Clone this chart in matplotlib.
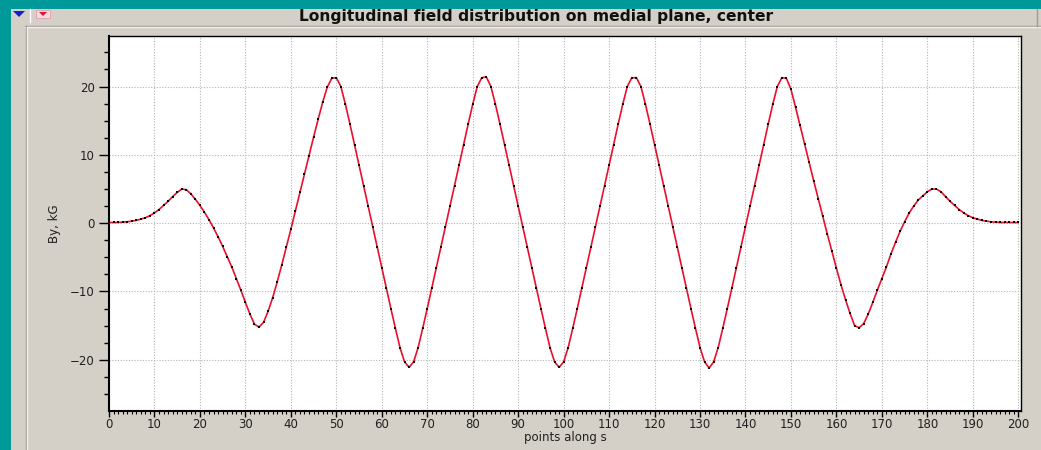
import matplotlib
matplotlib.use("Agg")
import matplotlib.pyplot as plt
from matplotlib.patches import Rectangle, Polygon
from matplotlib.lines import Line2D
from matplotlib.ticker import MultipleLocator

# ---------------- data ----------------
title = "Longitudinal field distribution on medial plane, center"
x_label = "points along s"
y_label = "By, kG"

points = list(range(0, 201))
field_kG = [
    0.1, 0.1, 0.1, 0.15, 0.2, 0.3, 0.4, 0.6, 0.8, 1.1,          # 0-9
    1.5, 2.0, 2.6, 3.2, 3.9, 4.5, 5.0, 4.9, 4.3, 3.5,           # 10-19
    2.6, 1.6, 0.5, -0.7, -2.0, -3.4, -4.9, -6.4, -8.1, -9.8,    # 20-29
    -11.6, -13.3, -14.8, -15.2, -14.5, -12.9, -10.9, -8.6, -6.1, -3.5,  # 30-39
    -0.9, 1.8, 4.5, 7.2, 9.9, 12.6, 15.2, 17.7, 19.9, 21.2,     # 40-49
    21.3, 20.0, 17.4, 14.5, 11.5, 8.5, 5.5, 2.5, -0.5, -3.5,    # 50-59
    -6.5, -9.5, -12.5, -15.4, -18.2, -20.3, -21.1, -20.3, -18.2, -15.4,  # 60-69
    -12.5, -9.5, -6.5, -3.5, -0.5, 2.5, 5.5, 8.5, 11.5, 14.5,   # 70-79
    17.4, 20.0, 21.3, 21.4, 20.0, 17.4, 14.5, 11.5, 8.5, 5.5,   # 80-89
    2.5, -0.5, -3.5, -6.5, -9.5, -12.5, -15.4, -18.2, -20.3, -21.1,  # 90-99
    -20.3, -18.2, -15.4, -12.5, -9.5, -6.5, -3.5, -0.5, 2.5, 5.5,    # 100-109
    8.5, 11.5, 14.5, 17.4, 20.0, 21.3, 21.3, 20.0, 17.4, 14.5,  # 110-119
    11.5, 8.5, 5.5, 2.5, -0.5, -3.5, -6.5, -9.5, -12.5, -15.4,  # 120-129
    -18.2, -20.3, -21.2, -20.3, -18.2, -15.4, -12.5, -9.5, -6.5, -3.5,  # 130-139
    -0.5, 2.5, 5.5, 8.5, 11.5, 14.5, 17.4, 20.0, 21.3, 21.2,    # 140-149
    19.6, 17.0, 14.3, 11.6, 8.9, 6.2, 3.6, 1.0, -1.6, -4.1,     # 150-159
    -6.6, -9.0, -11.2, -13.2, -15.0, -15.3, -14.7, -13.3, -11.6, -9.8,  # 160-169
    -8.1, -6.4, -4.5, -2.8, -1.2, 0.2, 1.5, 2.5, 3.4, 4.0,      # 170-179
    4.6, 5.0, 5.0, 4.6, 3.9, 3.2, 2.6, 2.0, 1.5, 1.1,           # 180-189
    0.8, 0.6, 0.4, 0.3, 0.2, 0.15, 0.1, 0.1, 0.1, 0.1,          # 190-199
    0.1,                                                        # 200
]
x_major_ticks = list(range(0, 201, 10))
y_major_ticks = [-20, -10, 0, 10, 20]

# ---------------- styling ----------------
W, H = 1041, 450
TEAL = "#009999"
GREY = "#d4d0c8"

fig = plt.figure(figsize=(W / 100, H / 100), dpi=100, facecolor=TEAL)


def fx(px):
    return px / W


def fy(py):
    return 1 - py / H


def rect(x0, y0, x1, y1, **kw):
    fig.patches.append(Rectangle((fx(x0), fy(y1)), fx(x1) - fx(x0), fy(y0) - fy(y1),
                                 transform=fig.transFigure, **kw))


def line(xs, ys, **kw):
    fig.lines.append(Line2D([fx(v) for v in xs], [fy(v) for v in ys],
                            transform=fig.transFigure, **kw))


# window body
rect(11, 9, W, H, facecolor=GREY, edgecolor="none", zorder=-3)
# title bar separators
line([25, W], [26, 26], color="#a09c94", lw=1, zorder=-2)
line([25, W], [27, 27], color="#f4f2ee", lw=1, zorder=-2)
line([25.5, 25.5], [26, H], color="#a09c94", lw=1, zorder=-2)
line([26.5, 26.5], [27, H], color="#f4f2ee", lw=1, zorder=-2)
line([1036.5, 1036.5], [9, 26], color="#a09c94", lw=1, zorder=-2)
line([29.5, 29.5], [9, 22], color="#ffffff", lw=1, zorder=-2)
# icons
fig.patches.append(Polygon([(fx(13), fy(11)), (fx(25), fy(11)), (fx(19), fy(17))],
                           closed=True, transform=fig.transFigure,
                           facecolor="#1020d0", edgecolor="none", zorder=-1))
rect(36, 10, 50, 18, facecolor="#f8d8e0", edgecolor="#e0a0b0", lw=0.6, zorder=-1)
fig.patches.append(Polygon([(fx(39), fy(12)), (fx(47), fy(12)), (fx(43), fy(16))],
                           closed=True, transform=fig.transFigure,
                           facecolor="#e01030", edgecolor="none", zorder=-0.5))

fig.text(fx(536), fy(16.5), title, ha="center", va="center", fontsize=11.2,
         fontweight="bold", family="DejaVu Sans", color="#101010", zorder=1)

# axes
left, right, top, bottom = 109, 1021, 36, 410.7
ax = fig.add_axes([fx(left), fy(bottom), fx(right) - fx(left), fy(top) - fy(bottom)])
ax.set_zorder(5)
ax.set_facecolor("white")

ax.plot(points, field_kG, color="#e8102c", lw=1.2, zorder=3)
ax.plot(points, field_kG, linestyle="none", marker="s", markersize=1.9,
        color="black", markeredgewidth=0, zorder=4)

ax.set_xlim(0, 200.6)
ax.set_ylim(-27.45, 27.4)
ax.set_xticks(x_major_ticks)
ax.set_yticks(y_major_ticks)
ax.xaxis.set_minor_locator(MultipleLocator(1))
ax.yaxis.set_minor_locator(MultipleLocator(2.5))

ax.grid(True, which="major", color="#b4b4b4", linestyle=(0, (1, 1.5)), lw=0.8)
ax.set_axisbelow(True)

for s in ax.spines.values():
    s.set_color("black")
    s.set_linewidth(1.0)
ax.spines["left"].set_linewidth(1.5)
ax.spines["bottom"].set_linewidth(1.5)

ax.tick_params(axis="y", which="major", length=7.2, width=1, direction="out",
               pad=3, labelsize=8.5, labelcolor="#202020")
ax.tick_params(axis="y", which="minor", length=3.6, width=1, direction="out")
ax.tick_params(axis="x", which="major", length=4.4, width=1, direction="out",
               pad=0.8, labelsize=8.5, labelcolor="#202020")
ax.tick_params(axis="x", which="minor", length=2.3, width=0.8, direction="out")

ax.set_xlabel(x_label, fontsize=8.5, color="#202020")
ax.set_ylabel(y_label, fontsize=8.5, color="#202020")
ax.xaxis.set_label_coords(0.5, (bottom - 431) / (bottom - top))
ax.yaxis.set_label_coords((61 - left) / (right - left), 0.5)

fig.savefig("out.png", dpi=100, facecolor=TEAL)
